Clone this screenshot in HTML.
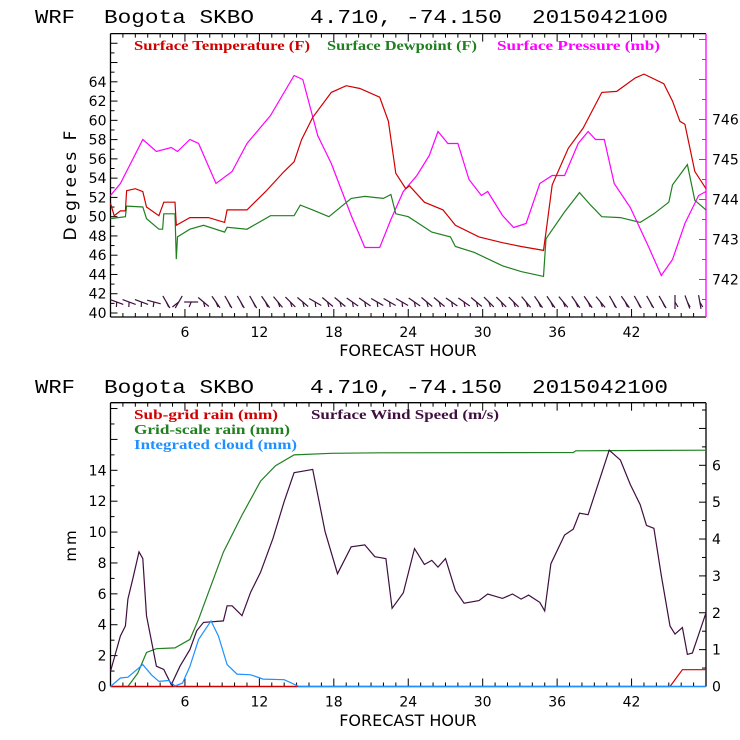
<!DOCTYPE html>
<html><head><meta charset="utf-8"><style>
html,body{margin:0;padding:0;background:#fff}
svg{display:block}
.t{font-family:"Liberation Mono",monospace;font-size:19px;fill:#000}
.ax{font-family:"DejaVu Sans","Liberation Sans",sans-serif;font-size:14px;fill:#000}
.lg{font-family:"Liberation Serif",serif;font-size:14px;font-weight:bold}
</style></head><body>
<svg id="svg" width="740" height="740" viewBox="0 0 740 740" xmlns="http://www.w3.org/2000/svg">
<g>
<text class="t" x="35" y="23" textLength="40" lengthAdjust="spacingAndGlyphs">WRF</text><text class="t" x="104" y="23" textLength="150" lengthAdjust="spacingAndGlyphs">Bogota SKBO</text>
<text class="t" x="310" y="23" textLength="192" lengthAdjust="spacingAndGlyphs">4.710, -74.150</text><text class="t" x="532" y="23" textLength="136" lengthAdjust="spacingAndGlyphs">2015042100</text></g>
<g>
<text class="t" x="35" y="393" textLength="40" lengthAdjust="spacingAndGlyphs">WRF</text><text class="t" x="104" y="393" textLength="150" lengthAdjust="spacingAndGlyphs">Bogota SKBO</text>
<text class="t" x="310" y="393" textLength="192" lengthAdjust="spacingAndGlyphs">4.710, -74.150</text><text class="t" x="532" y="393" textLength="136" lengthAdjust="spacingAndGlyphs">2015042100</text></g>
<text class="lg" x="134" y="50" fill="#d00000" textLength="176" lengthAdjust="spacingAndGlyphs">Surface Temperature (F)</text>
<text class="lg" x="327" y="50" fill="#208020" textLength="150" lengthAdjust="spacingAndGlyphs">Surface Dewpoint (F)</text>
<text class="lg" x="497" y="50" fill="#ff00ff" textLength="163" lengthAdjust="spacingAndGlyphs">Surface Pressure (mb)</text>
<text class="lg" x="134" y="419" fill="#d00000" textLength="144" lengthAdjust="spacingAndGlyphs">Sub-grid rain (mm)</text>
<text class="lg" x="311" y="419" fill="#3f0f3f" textLength="188" lengthAdjust="spacingAndGlyphs">Surface Wind Speed (m/s)</text>
<text class="lg" x="134" y="434" fill="#208020" textLength="156" lengthAdjust="spacingAndGlyphs">Grid-scale rain (mm)</text>
<text class="lg" x="134" y="449" fill="#1e90ff" textLength="163" lengthAdjust="spacingAndGlyphs">Integrated cloud (mm)</text>
<text class="ax" x="0" y="0" transform="translate(76,184) rotate(-90)" text-anchor="middle" style="font-size:17px;letter-spacing:3px">Degrees F</text>
<text class="ax" x="0" y="0" transform="translate(76,545) rotate(-90)" text-anchor="middle" style="font-size:15px;letter-spacing:2px">mm</text>
<text class="ax" x="408" y="356" text-anchor="middle" style="font-size:16px">FORECAST HOUR</text>
<text class="ax" x="408" y="726" text-anchor="middle" style="font-size:16px">FORECAST HOUR</text>
</svg>
<script>
const xTicks=[6,12,18,24,30,36,42];
const tempH=[0,0.3,0.8,1.2,1.3,2,2.6,2.9,3.9,4.3,5.2,5.3,6.4,7.9,9.2,9.4,11,12.5,14,14.8,15.4,16.3,17.8,19,20.1,21.7,22.4,23,23.8,24.1,25.3,26.8,27.8,29.7,31.6,33.1,34.9,35.1,35.6,36.9,38.1,39.6,40.8,42.3,43,44.6,45.3,45.9,46.3,47.1,48];
const tempV=[51.4,50.1,50.6,50.6,52.7,52.9,52.6,51,50.1,51.5,51.5,49.1,49.9,49.9,49.4,50.7,50.7,52.6,54.7,55.7,58,60.3,62.9,63.6,63.3,62.4,59.9,54.5,52.9,53.2,51.5,50.7,49.1,47.9,47.3,46.9,46.5,48.4,53.3,57.1,59.2,62.9,63,64.4,64.8,63.8,62,59.9,59.6,54.7,52.9];
const dewH=[0,1.2,1.3,2.6,2.9,3.9,4.2,4.3,5.2,5.3,5.4,6.4,7.5,9.2,9.4,11,12.9,14.8,15.3,16.3,17.6,19.4,20.5,22,22.6,23,24,25.9,27.4,27.8,29.3,31.6,33.1,34.9,35.1,36.6,37.8,38.7,39.6,41.1,42.7,43.8,45,45.3,46.5,47.1,48];
const dewV=[49.8,50,51.1,51,49.8,48.7,48.7,50.3,50.3,45.6,47.9,48.7,49.1,48.4,48.9,48.7,50.1,50.1,51.2,50.7,50,51.9,52.1,51.9,52.3,50.3,50,48.4,47.9,46.9,46.3,44.9,44.3,43.8,47.7,50.5,52.5,51.2,50,49.9,49.4,50.3,51.5,53.3,55.4,51.7,50.7];
const presH=[0,0.8,2.6,3.7,4.9,5.4,6.4,7.1,8.5,9.8,11,12.9,14.8,15.5,16.7,17.8,19.4,20.5,21.7,22.6,23.6,24.7,25.7,26.4,27.2,28,28.9,29.9,30.4,31.6,32.5,33.5,34.6,35.6,36.6,37.7,38.5,39.1,39.8,40.6,41.9,43.4,44.4,45.3,46.3,47.4,48];
const presV=[744.1,744.4,745.5,745.2,745.3,745.2,745.5,745.4,744.4,744.7,745.4,746.1,747.1,747,745.6,744.9,743.6,742.8,742.8,743.5,744.2,744.6,745.1,745.7,745.4,745.4,744.5,744.1,744.2,743.6,743.3,743.4,744.4,744.6,744.6,745.4,745.7,745.5,745.5,744.4,743.8,742.8,742.1,742.5,743.4,744.1,744.2];
const barbAng=[20,20,20,15,60,-60,0,40,55,60,60,60,55,50,45,40,30,40,40,35,35,30,30,30,35,40,40,35,35,40,45,45,45,50,55,55,50,55,55,50,60,55,60,60,60,90,70,80];
const rainH=[0,1.4,2.2,2.9,3.7,5.2,6.4,7.1,7.9,9.1,10.6,12.1,13.3,14.8,17.8,21.7,37.3,37.5,48];
const rainV=[0,0,0.87,2.2,2.45,2.5,3.05,4.36,6.1,8.7,11.1,13.3,14.3,15,15.1,15.13,15.15,15.26,15.3];
const cloudH=[0,0.8,1.4,2.6,3.3,3.9,4.7,5.2,5.8,6.4,7.1,8.1,8.7,9.4,10.2,11.3,12.3,14,15.2,48];
const cloudV=[0,0.55,0.6,1.42,0.76,0.33,0.39,0.04,0.22,1.3,3.05,4.25,3.27,1.42,0.8,0.76,0.48,0.44,0,0];
const subH=[0,45.1,46.1,48];
const subV=[0,0,1.09,1.09];
const windH=[0,0.8,1.2,1.4,1.8,2.3,2.6,2.9,3.7,4.3,4.9,5.6,6.4,6.95,7.5,9.1,9.4,9.8,10.6,11.3,12.1,13.1,14,14.8,15.5,16.3,17.3,18.3,19.4,20.5,21.3,22.2,22.7,23.6,24.5,25.3,25.9,26.4,27,27.8,28.5,29.7,30.4,31.6,32.4,33.1,33.7,34.6,35,35.5,36.6,37.3,37.8,38.5,40.2,41.1,41.9,42.7,43.2,43.8,44.4,45.1,45.5,46.1,46.5,46.9,48];
const windV=[0.41,1.37,1.64,2.37,2.92,3.65,3.47,1.92,0.55,0.46,0.05,0.55,1.0,1.51,1.74,1.78,2.19,2.19,1.92,2.56,3.1,4.02,5.02,5.8,5.84,5.89,4.2,3.06,3.79,3.84,3.52,3.47,2.12,2.54,3.74,3.31,3.42,3.24,3.47,2.6,2.26,2.33,2.51,2.39,2.51,2.37,2.48,2.28,2.05,3.33,4.11,4.27,4.7,4.66,6.41,6.14,5.48,4.93,4.37,4.29,3.01,1.64,1.42,1.6,0.87,0.91,2.0];
const tempTicks=[40,42,44,46,48,50,52,54,56,58,60,62,64];
const presTicks=[742,743,744,745,746];
const mmTicks=[0,2,4,6,8,10,12,14];
const windTicks=[0,1,2,3,4,5,6];

const NS='http://www.w3.org/2000/svg';
const svg=document.getElementById('svg');
const L=110.5,R=706;
const X=h=>L+(R-L)*h/48;
function mk(tag,attrs,parent){const e=document.createElementNS(NS,tag);for(const k in attrs)e.setAttribute(k,attrs[k]);(parent||svg).appendChild(e);return e;}
function lin(d0,d1,p0,p1){return v=>p0+(v-d0)*(p1-p0)/(d1-d0);}
function poly(H,V,ys,color,name){
  const pts=H.map((h,i)=>X(h).toFixed(1)+','+ys(V[i]).toFixed(1)).join(' ');
  const p=mk('polyline',{points:pts,fill:'none',stroke:color,'stroke-width':1.2});
  
  
}
function frame(top,bot,rightColor,name){
  const g=mk('g',{});
  
  
  mk('line',{x1:L,y1:top,x2:R,y2:top,stroke:'#000','stroke-width':1.3},g);
  mk('line',{x1:L,y1:bot,x2:R,y2:bot,stroke:'#000','stroke-width':1.3},g);
  mk('line',{x1:L,y1:top,x2:L,y2:bot,stroke:'#000','stroke-width':1.3},g);
  mk('line',{x1:R,y1:top,x2:R,y2:bot,stroke:rightColor,'stroke-width':1.3},g);
  for(let h=1;h<48;h++){const len=h%6===0?8:4;
    mk('line',{x1:X(h),y1:bot,x2:X(h),y2:bot-len,stroke:'#000'},g);
    mk('line',{x1:X(h),y1:top,x2:X(h),y2:top+len,stroke:'#000'},g);}
  xTicks.forEach(h=>{const t=mk('text',{x:X(h),y:bot+20,'text-anchor':'middle',class:'ax'},g);t.textContent=h;
    
    });
  return g;
}
const yT=lin(40,64,313,81.8), yP=lin(742,746,279.5,119.5);
const g1=frame(33.6,317,'#ff00ff','top-chart-frame');
for(let v=40;v<=68;v++){const y=yT(v);if(y<34)continue;mk('line',{x1:L,y1:y,x2:L+(v%2===0?7:4),y2:y,stroke:'#000'},g1);}
tempTicks.forEach(v=>{const t=mk('text',{x:L-4,y:yT(v)+5,'text-anchor':'end',class:'ax'},g1);t.textContent=v;
  
  });
for(let v=741.5;v<=748;v+=0.5){const y=yP(v);if(y<34||y>317)continue;mk('line',{x1:R,y1:y,x2:R-(v%1===0?7:4),y2:y,stroke:'#ff00ff'},g1);}
presTicks.forEach(v=>{const t=mk('text',{x:R+6,y:yP(v)+5,class:'ax'},g1);t.textContent=v;
  
  });
poly(presH,presV,yP,'#ff00ff','pressure-line');
poly(dewH,dewV,yT,'#208020','dewpoint-line');
poly(tempH,tempV,yT,'#d00000','temperature-line');
barbAng.forEach((a,i)=>{const h=i+0.5,x=X(h),r=a*Math.PI/180,len=14;
  const x0=x-Math.cos(r)*len/2,y0=302-Math.sin(r)*len/2,x1=x+Math.cos(r)*len/2,y1=302+Math.sin(r)*len/2;
  const b=mk('g',{});
  
  
  mk('line',{x1:x0,y1:y0,x2:x1,y2:y1,stroke:'#3f0f3f','stroke-width':1.2},b);
  const mx=(x0+x1)/2,my=(y0+y1)/2;
  mk('line',{x1:mx,y1:my,x2:mx+Math.sin(r)*5-2,y2:my+5,stroke:'#3f0f3f','stroke-width':1.2},b);
});
const yM=lin(0,14,686.5,470.3), yW=lin(0,6,686.5,465.3);
const g2=frame(402.7,686.5,'#000','bottom-chart-frame');
for(let v=0;v<=18;v++){const y=yM(v);if(y<403)continue;mk('line',{x1:L,y1:y,x2:L+(v%2===0?7:4),y2:y,stroke:'#000'},g2);}
mmTicks.forEach(v=>{const t=mk('text',{x:L-4,y:yM(v)+5,'text-anchor':'end',class:'ax'},g2);t.textContent=v;
  
  });
for(let v=0;v<=7.5;v+=0.5){const y=yW(v);if(y<403)continue;mk('line',{x1:R,y1:y,x2:R-(v%1===0?7:4),y2:y,stroke:'#000'},g2);}
windTicks.forEach(v=>{const t=mk('text',{x:R+6,y:yW(v)+5,class:'ax'},g2);t.textContent=v;
  
  });
poly(rainH,rainV,yM,'#208020','gridscale-rain-line');
poly(windH,windV,yW,'#3f0f3f','wind-speed-line');
poly(subH,subV,yM,'#d00000','subgrid-rain-line');
poly(cloudH,cloudV,yM,'#1e90ff','cloud-line');
</script>
</body></html>
